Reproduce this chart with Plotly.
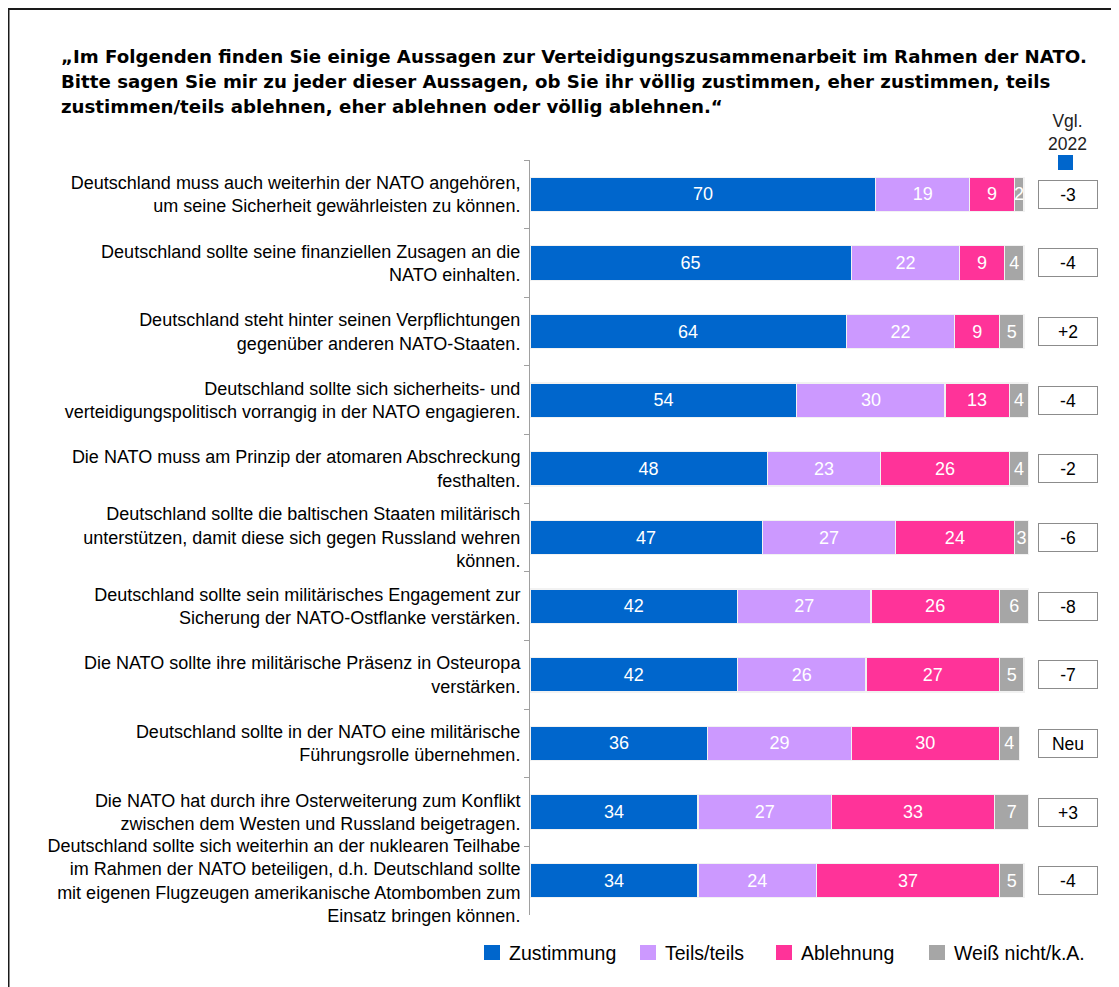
import plotly.graph_objects as go

statements = [
    "Deutschland muss auch weiterhin der NATO angehören,<br>um seine Sicherheit gewährleisten zu können.",
    "Deutschland sollte seine finanziellen Zusagen an die<br>NATO einhalten.",
    "Deutschland steht hinter seinen Verpflichtungen<br>gegenüber anderen NATO-Staaten.",
    "Deutschland sollte sich sicherheits- und<br>verteidigungspolitisch vorrangig in der NATO engagieren.",
    "Die NATO muss am Prinzip der atomaren Abschreckung<br>festhalten.",
    "Deutschland sollte die baltischen Staaten militärisch<br>unterstützen, damit diese sich gegen Russland wehren<br>können.",
    "Deutschland sollte sein militärisches Engagement zur<br>Sicherung der NATO-Ostflanke verstärken.",
    "Die NATO sollte ihre militärische Präsenz in Osteuropa<br>verstärken.",
    "Deutschland sollte in der NATO eine militärische<br>Führungsrolle übernehmen.",
    "Die NATO hat durch ihre Osterweiterung zum Konflikt<br>zwischen dem Westen und Russland beigetragen.",
    "Deutschland sollte sich weiterhin an der nuklearen Teilhabe<br>im Rahmen der NATO beteiligen, d.h. Deutschland sollte<br>mit eigenen Flugzeugen amerikanische Atombomben zum<br>Einsatz bringen können.",
]
zustimmung = [70, 65, 64, 54, 48, 47, 42, 42, 36, 34, 34]
teils = [19, 22, 22, 30, 23, 27, 27, 26, 29, 27, 24]
ablehnung = [9, 9, 9, 13, 26, 24, 26, 27, 30, 33, 37]
weiss_nicht = [2, 4, 5, 4, 4, 3, 6, 5, 4, 7, 5]
vgl_2022 = ["-3", "-4", "+2", "-4", "-2", "-6", "-8", "-7", "Neu", "+3", "-4"]

title_lines = [
    "„Im Folgenden finden Sie einige Aussagen zur Verteidigungszusammenarbeit im Rahmen der NATO.",
    "Bitte sagen Sie mir zu jeder dieser Aussagen, ob Sie ihr völlig zustimmen, eher zustimmen, teils",
    "zustimmen/teils ablehnen, eher ablehnen oder völlig ablehnen.“",
]

series = [
    ("Zustimmung", zustimmung, "#0066CC"),
    ("Teils/teils", teils, "#CC99FF"),
    ("Ablehnung", ablehnung, "#FF3399"),
    ("Weiß nicht/k.A.", weiss_nicht, "#A6A6A6"),
]

FONT = "Liberation Sans, Arial, sans-serif"
TFONT = "DejaVu Sans, Liberation Sans, sans-serif"
W, H = 1111, 979
L, R, T, B = 522, 90, 152, 72
PW, PH = W - L - R, H - T - B

def px_x(px):
    return (px - L) / PW

def px_y(py):
    return (H - B - py) / PH

fig = go.Figure()
for name, vals, col in series:
    fig.add_trace(go.Bar(
        y=statements, x=vals, name=name, orientation="h",
        marker=dict(color=col, line=dict(color="#F2F2F2", width=1.2)),
        text=vals, textposition="inside", insidetextanchor="middle",
        textangle=0, constraintext="none",
        textfont=dict(color="white", size=18, family=FONT),
        hoverinfo="skip", showlegend=False,
    ))

# comparison column
for s, v in zip(statements, vgl_2022):
    fig.add_annotation(
        x=px_x(1059.5), xref="paper", y=s, yref="y",
        text=v, showarrow=False, xanchor="center", yanchor="middle",
        width=58, height=27, borderpad=0, borderwidth=1,
        bordercolor="#8C8C8C", bgcolor="white",
        font=dict(size=17.5, color="black", family=FONT),
    )

fig.add_annotation(
    x=px_x(1059.5), xref="paper", y=px_y(125), yref="paper",
    text="Vgl.<br>2022", showarrow=False, xanchor="center", yanchor="middle",
    font=dict(size=17.5, color="#222222", family=FONT),
)
fig.add_shape(type="rect", xref="paper", yref="paper",
              x0=px_x(1050), x1=px_x(1065), y0=px_y(162), y1=px_y(147),
              fillcolor="#0066CC", line=dict(width=0))

# title lines
for i, line in enumerate(title_lines):
    fig.add_annotation(
        x=px_x(51), xref="paper", y=px_y(48.5 + 25 * i), yref="paper",
        text=line, showarrow=False, xanchor="left", yanchor="middle",
        font=dict(size=18.2, family=TFONT, weight="bold", color="black"),
    )

# legend (manual, to match swatch size and spacing)
legend_x = [476, 632, 768, 921]
for (name, vals, col), lx in zip(series, legend_x):
    fig.add_shape(type="rect", xref="paper", yref="paper",
                  x0=px_x(lx), x1=px_x(lx + 16), y0=px_y(952), y1=px_y(937),
                  fillcolor=col, line=dict(width=0))
    fig.add_annotation(
        x=px_x(lx + 23), xref="paper", y=px_y(945), yref="paper",
        text=name, showarrow=False, xanchor="left", yanchor="middle",
        font=dict(size=19.5, family=FONT, color="black"),
    )

# outer frame (top and left edge of the chart box)
fig.add_shape(type="line", xref="paper", yref="paper",
              x0=px_x(0.5), x1=px_x(W + 20), y0=px_y(1), y1=px_y(1),
              line=dict(color="#1A1A1A", width=2))
fig.add_shape(type="line", xref="paper", yref="paper",
              x0=px_x(0.5), x1=px_x(0.5), y0=px_y(0), y1=px_y(H + 20),
              line=dict(color="#1A1A1A", width=2))

fig.update_layout(
    width=W, height=H,
    margin=dict(l=L, r=R, t=T, b=B),
    barmode="stack", bargap=0.5,
    plot_bgcolor="white", paper_bgcolor="white",
    font=dict(family=FONT, color="black"),
    xaxis=dict(range=[0, 101], visible=False, fixedrange=True),
    yaxis=dict(
        autorange="reversed", type="category",
        showline=True, linecolor="#A0A0A0", linewidth=1,
        ticks="outside", tickson="boundaries", ticklen=5, tickcolor="#A0A0A0",
        ticklabelstandoff=5,
        tickfont=dict(size=18, family=FONT, color="black"),
        showgrid=False, zeroline=False,
    ),
    showlegend=False,
)

fig.write_html("out.html")
